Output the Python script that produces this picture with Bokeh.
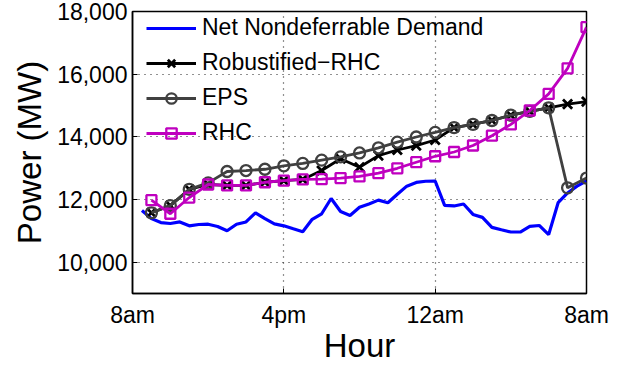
from bokeh.plotting import figure
from bokeh.models import (FixedTicker, NumeralTickFormatter, Range1d,
                          Legend, LegendItem)
from bokeh.embed import file_html
from bokeh.resources import INLINE

# ---------------- data ----------------
demand_hours = [0.5 * i for i in range(1, 49)]
net_demand = [11647, 11389, 11264, 11233, 11284, 11160, 11202, 11212, 11140, 11003,
              11212, 11284, 11576, 11389, 11221, 11160, 11065, 10972, 11367, 11545,
              12031, 11616, 11492, 11750, 11856, 11980, 11897, 12167, 12426, 12545,
              12582, 12591, 11812, 11794, 11856, 11523, 11430, 11109, 11034, 10962,
              10962, 11140, 11171, 10878, 11897, 12208, 12426, 12591]

hours = list(range(1, 25))
robust_rhc = [11576, 11803, 12323, 12479, 12448, 12448, 12550, 12600, 12640, 12924,
              13300, 13030, 13400, 13580, 13720, 13900, 14295, 14397, 14522, 14690,
              14814, 14925, 15042, 15126]
eps = [11576, 11803, 12323, 12529, 12893, 12924, 12965, 13075, 13151, 13257,
       13360, 13485, 13650, 13830, 13995, 14140, 14295, 14397, 14522, 14690,
       14814, 14925, 12373, 12685]
rhc = [11980, 11545, 12062, 12479, 12448, 12448, 12550, 12600, 12640, 12650,
       12685, 12737, 12840, 12996, 13190, 13380, 13516, 13724, 14036, 14397,
       14840, 15370, 16185, 17500]

x_ticks = [0, 8, 16, 24]
x_tick_labels = ["8am", "4pm", "12am", "8am"]
y_ticks = [10000, 12000, 14000, 16000, 18000]

FONT = "Liberation Sans"

p = figure(width=634, height=366, x_range=Range1d(0, 24), y_range=Range1d(9000, 18000),
           output_backend="svg", toolbar_location=None,
           min_border_left=132, min_border_right=48, min_border_top=11,
           min_border_bottom=66)
p.background_fill_color = "white"
p.border_fill_color = "white"
p.outline_line_color = "black"
p.outline_line_width = 1.5

# axes
for ax in (p.xaxis[0], p.yaxis[0]):
    ax.axis_line_color = "black"
    ax.axis_line_width = 1.5
    ax.major_tick_in = 5
    ax.major_tick_out = 0
    ax.minor_tick_in = 0
    ax.minor_tick_out = 0
    ax.major_tick_line_color = "black"
    ax.major_label_text_font = FONT
    ax.major_label_text_font_size = "23px"
    ax.major_label_text_color = "black"
    ax.axis_label_text_font = FONT
    ax.axis_label_text_font_style = "normal"
    ax.axis_label_text_font_size = "33px"
    ax.axis_label_text_color = "black"

p.xaxis.ticker = FixedTicker(ticks=x_ticks)
p.xaxis.major_label_overrides = {t: l for t, l in zip(x_ticks, x_tick_labels)}
p.xaxis.axis_label = "Hour"
p.xaxis.major_label_standoff = 8
p.xaxis.axis_label_standoff = -4

p.yaxis.ticker = FixedTicker(ticks=y_ticks)
p.yaxis.formatter = NumeralTickFormatter(format="0,0")
p.yaxis.axis_label = "Power (MW)"
p.yaxis.major_label_standoff = 5
p.yaxis.axis_label_standoff = 6

# grids
p.xgrid.ticker = FixedTicker(ticks=x_ticks)
p.ygrid.ticker = FixedTicker(ticks=y_ticks)
for g in (p.xgrid[0], p.ygrid[0]):
    g.grid_line_color = "#222222"
    g.grid_line_alpha = 1.0
    g.grid_line_dash = "1 5"
    g.grid_line_width = 1.2

BLUE = "#0000ff"
BLACK = "#000000"
GRAY = "#404040"
MAG = "#bf00bf"

r_d = p.line(demand_hours, net_demand, line_color=BLUE, line_width=3.2)

r_rl = p.line(hours, robust_rhc, line_color=BLACK, line_width=2.8)
r_rm = p.scatter(hours, robust_rhc, marker="x", size=13, line_color=BLACK, line_width=2.8)

r_el = p.line(hours, eps, line_color=GRAY, line_width=2.8)
r_em = p.scatter(hours, eps, marker="circle", size=11, line_color=GRAY, line_width=2.3,
                 fill_alpha=0)

r_hl = p.line(hours, rhc, line_color=MAG, line_width=2.8)
r_hm = p.scatter(hours, rhc, marker="square", size=10, line_color=MAG, line_width=2.3,
                 fill_alpha=0)

legend = Legend(items=[
    LegendItem(label="Net Nondeferrable Demand", renderers=[r_d]),
    LegendItem(label="Robustified\u2212RHC", renderers=[r_rl, r_rm]),
    LegendItem(label="EPS", renderers=[r_el, r_em]),
    LegendItem(label="RHC", renderers=[r_hl, r_hm]),
], location=(14, 147))
legend.margin = 0
legend.padding = 0
legend.spacing = 8
legend.glyph_width = 50
legend.glyph_height = 26
legend.label_height = 26
legend.label_standoff = 6
legend.label_text_font = FONT
legend.label_text_font_size = "23px"
legend.label_text_color = "black"
legend.background_fill_alpha = 0
legend.border_line_alpha = 0
p.add_layout(legend)

open("out.html", "w").write(file_html(p, INLINE))
